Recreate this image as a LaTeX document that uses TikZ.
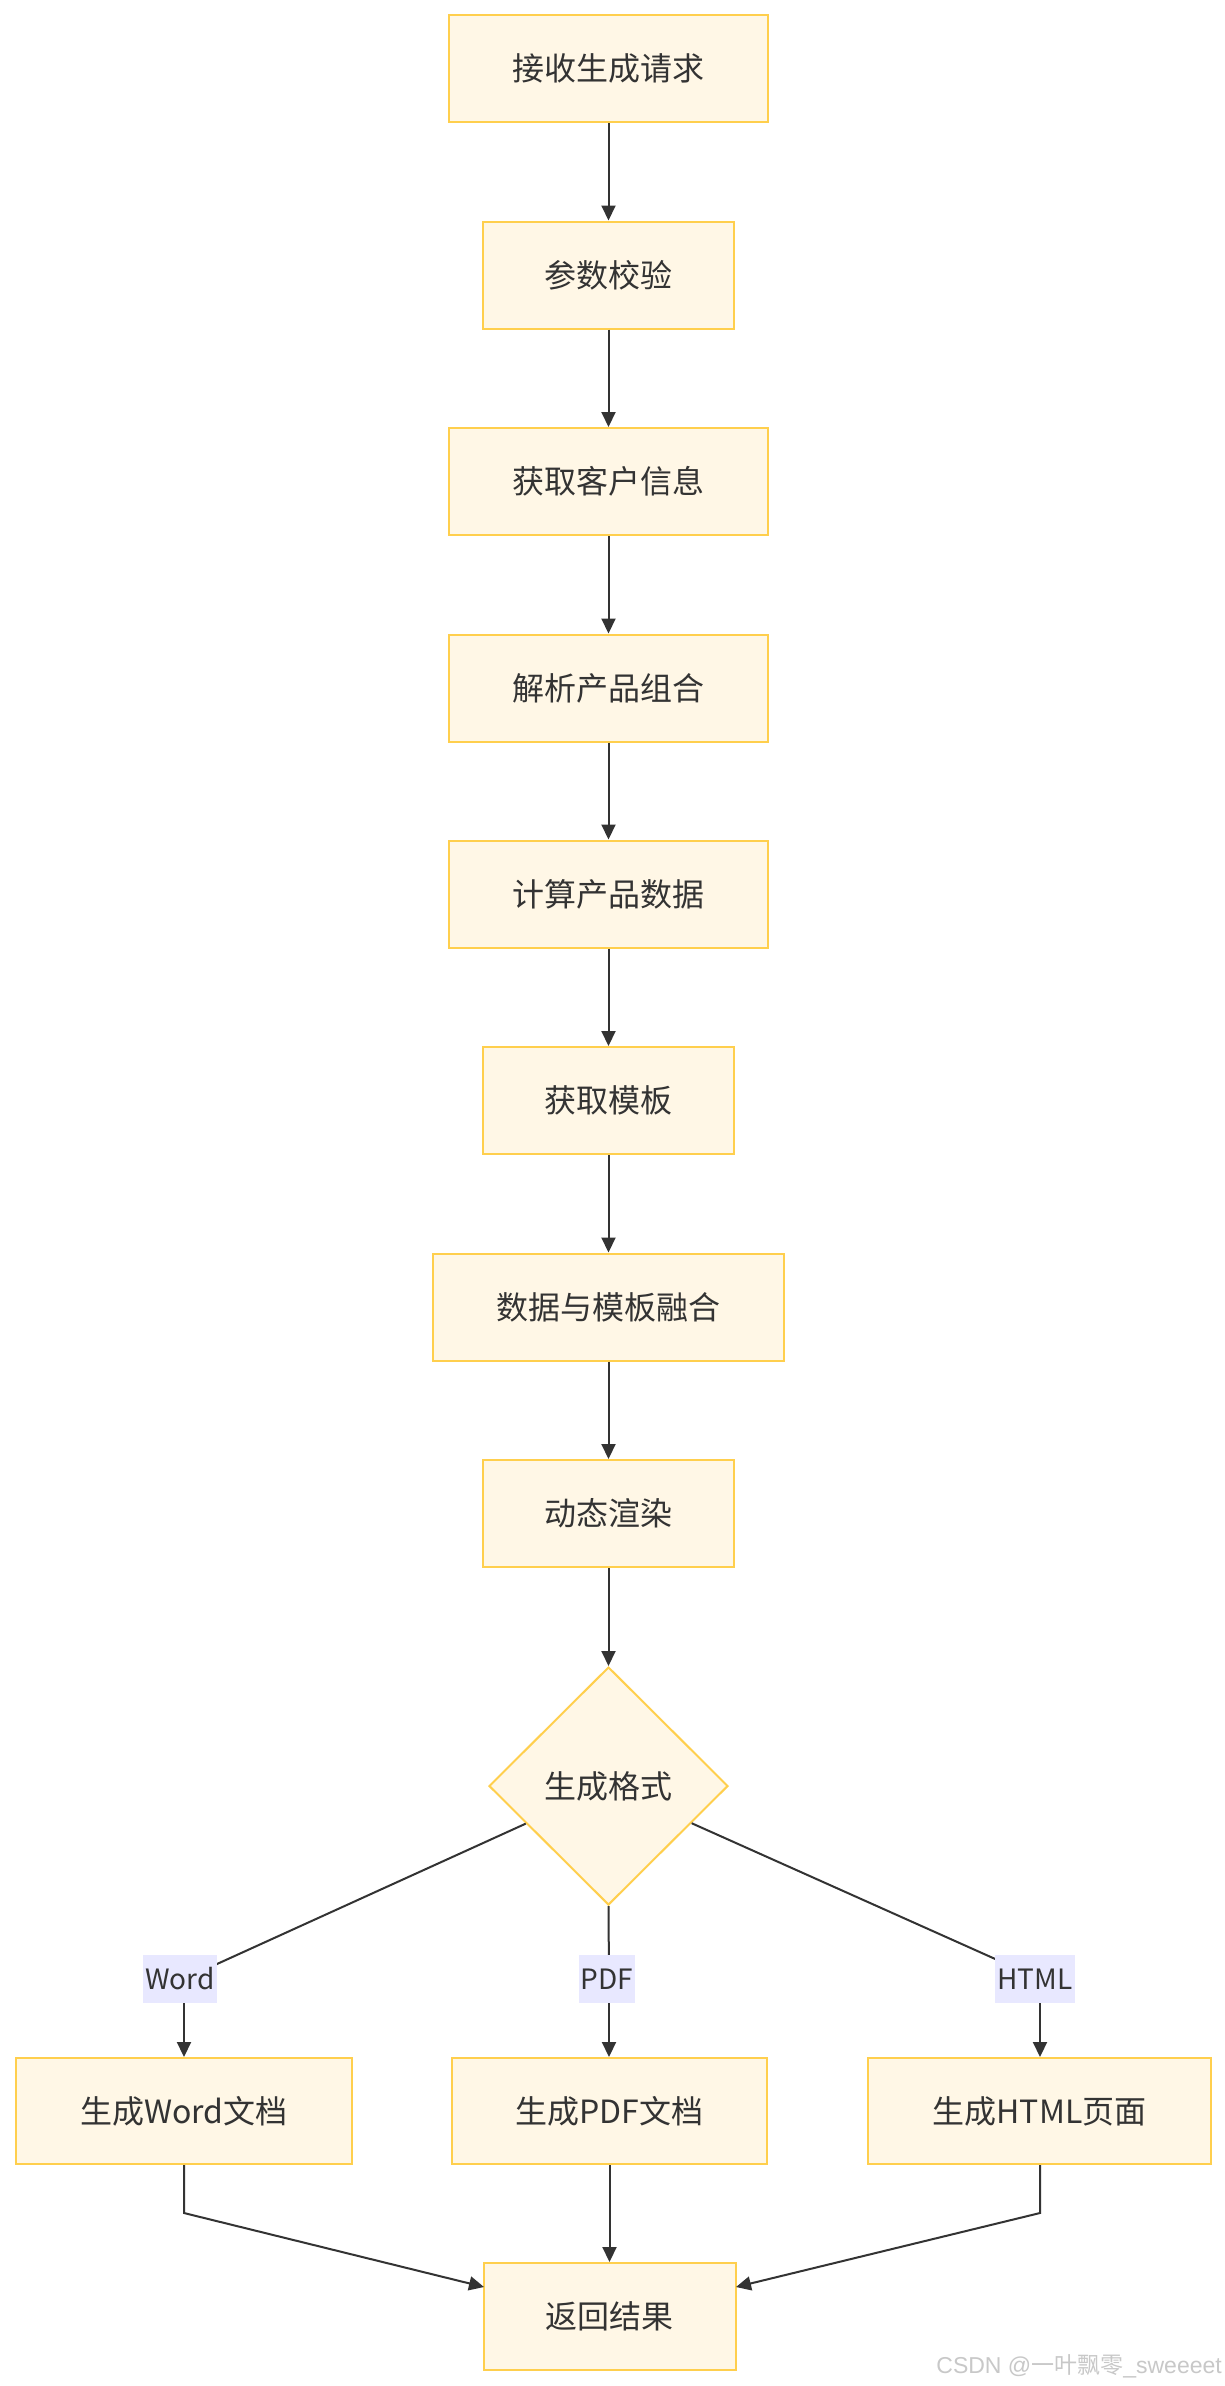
\documentclass[tikz,border=0pt]{standalone}
\usepackage{fontspec}
\setmainfont{Noto Sans CJK SC}
\newfontfamily\cjk{Noto Sans CJK SC}
\newfontfamily\wmfont{Liberation Sans}
\usetikzlibrary{shapes.geometric,arrows.meta}
\definecolor{boxfill}{RGB}{255,247,230}
\definecolor{boxline}{RGB}{255,207,77}
\definecolor{ink}{RGB}{51,51,51}
\definecolor{lblfill}{RGB}{232,232,255}
\definecolor{wm}{RGB}{200,200,200}
\tikzset{
  procbox/.style={draw=boxline, fill=boxfill, line width=2pt, inner sep=0pt,
    minimum height=107pt, text=ink, font=\cjk\fontsize{32}{38}\selectfont},
  decbox/.style={diamond, draw=boxline, fill=boxfill, line width=2pt, inner sep=0pt,
    minimum width=239pt, minimum height=238pt, text=ink, font=\cjk\fontsize{32}{38}\selectfont},
  edgelbl/.style={fill=lblfill, inner xsep=2pt, inner ysep=0pt, minimum height=48pt,
    text=ink, font=\cjk\fontsize{28}{34}\selectfont},
  conn/.style={draw=ink, line width=2pt, -{Triangle[length=15pt,width=14pt]}},
  connplain/.style={draw=ink, line width=2pt},
}
\begin{document}
\begin{tikzpicture}[x=1pt,y=-1pt]
\useasboundingbox (0,0) rectangle (1224,2386);
\fill[white] (0,0) rectangle (1224,2386);

\node[procbox, minimum width=319pt] (b1) at (608.5,68.5) {接收生成请求};
\node[procbox, minimum width=251pt] (b2) at (608.5,275) {参数校验};
\node[procbox, minimum width=319pt] (b3) at (608.5,481.5) {获取客户信息};
\node[procbox, minimum width=319pt] (b4) at (608.5,688) {解析产品组合};
\node[procbox, minimum width=319pt] (b5) at (608.5,894) {计算产品数据};
\node[procbox, minimum width=251pt] (b6) at (608.5,1100.5) {获取模板};
\node[procbox, minimum width=351pt] (b7) at (608.5,1307) {数据与模板融合};
\node[procbox, minimum width=251pt] (b8) at (608.5,1513.5) {动态渲染};
\node[decbox] (d) at (608.5,1786) {生成格式};

\node[procbox, minimum width=336pt, minimum height=106pt] (w) at (184,2111) {生成Word文档};
\node[procbox, minimum width=315pt, minimum height=106pt] (p) at (609.5,2111) {生成PDF文档};
\node[procbox, minimum width=343pt, minimum height=106pt] (h) at (1039.5,2111) {生成HTML页面};
\node[procbox, minimum width=252pt] (r) at (609.5,2316.5) {返回结果};

\coordinate (wl) at (184,1979);
\coordinate (pl) at (609,1979);
\coordinate (hl) at (1040,1979);
\coordinate (wj) at (184,2213);
\coordinate (hj) at (1040,2213);
\coordinate (rw) at (484,2287);
\coordinate (rh) at (736,2287);

\draw[conn] (b1) -- (b2);
\draw[conn] (b2) -- (b3);
\draw[conn] (b3) -- (b4);
\draw[conn] (b4) -- (b5);
\draw[conn] (b5) -- (b6);
\draw[conn] (b6) -- (b7);
\draw[conn] (b7) -- (b8);
\draw[conn] (b8) -- (d);

\draw[connplain] (d) -- (wl);
\draw[conn] (wl) -- (w.north);
\draw[connplain] (d.south) -- (pl);
\draw[conn] (pl) -- (p.north -| pl);
\draw[connplain] (d) -- (hl);
\draw[conn] (hl) -- (h.north -| hl);

\node[edgelbl] (lw) at (180,1979) {Word};
\node[edgelbl] (lp) at (607,1979) {PDF};
\node[edgelbl] (lh) at (1035,1979) {HTML};

\draw[conn] (w.south) -- (wj) -- (rw);
\draw[conn] (p.south) -- (r.north);
\draw[conn] (h.south -| hj) -- (hj) -- (rh);

\node[anchor=base east, text=wm, inner sep=0pt, font=\wmfont\fontsize{23}{27}\selectfont] (wmk) at (1222,2373) {CSDN @{\cjk 一叶飘零}\_sweeeet};
\end{tikzpicture}
\end{document}
